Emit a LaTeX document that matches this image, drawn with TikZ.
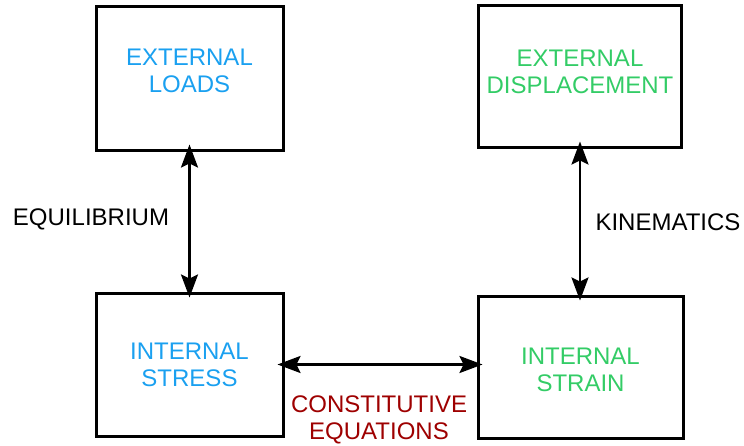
\documentclass[tikz,border=0pt]{standalone}
\usepackage{fontspec}
\setmainfont{Liberation Sans}
\usetikzlibrary{arrows.meta}
\definecolor{loadblue}{HTML}{1AA0F0}
\definecolor{straingreen}{HTML}{33CC66}
\definecolor{lawred}{HTML}{9E0000}
\begin{document}
\begin{tikzpicture}[x=1pt,y=-1pt,
  box/.style={draw,line width=3pt,inner sep=0pt},
  link/.style={draw,line width=2.4pt,shorten <=-7pt,shorten >=-6pt,
    arrows={Stealth[length=23pt,width=17pt,inset=4pt]-Stealth[length=23pt,width=17pt,inset=4pt]}},
  lbl/.style={align=center,inner sep=0pt}]
\fontsize{24}{27}\selectfont
\useasboundingbox (0,0) rectangle (744,445);

\node[box,minimum width=187,minimum height=144] (loads) at (189.5,78) {};
\node[box,minimum width=203,minimum height=142] (disp) at (580,76) {};
\node[box,minimum width=187,minimum height=143] (stress) at (189.5,364.5) {};
\node[box,minimum width=205,minimum height=142] (strain) at (580.5,367) {};

\node[lbl,text=loadblue] (loadstxt) at (189.5,71) {EXTERNAL\\LOADS};
\node[lbl,text=straingreen] (disptxt) at (580,72) {EXTERNAL\\DISPLACEMENT};
\node[lbl,text=loadblue] (stresstxt) at (189.5,365) {INTERNAL\\STRESS};
\node[lbl,text=straingreen] (straintxt) at (580.5,370) {INTERNAL\\STRAIN};

\path[link] (loads.south) -- (stress.north);
\path[link] (disp.south) -- (disp.south |- strain.north);
\path[link] (stress.east) -- (stress.east -| strain.west);

\node[lbl] (equil) at (91,219) {EQUILIBRIUM};
\node[lbl] (kine) at (668,222) {KINEMATICS};
\node[lbl,text=lawred] (const) at (379,420) {CONSTITUTIVE\\EQUATIONS};
\end{tikzpicture}
\end{document}
